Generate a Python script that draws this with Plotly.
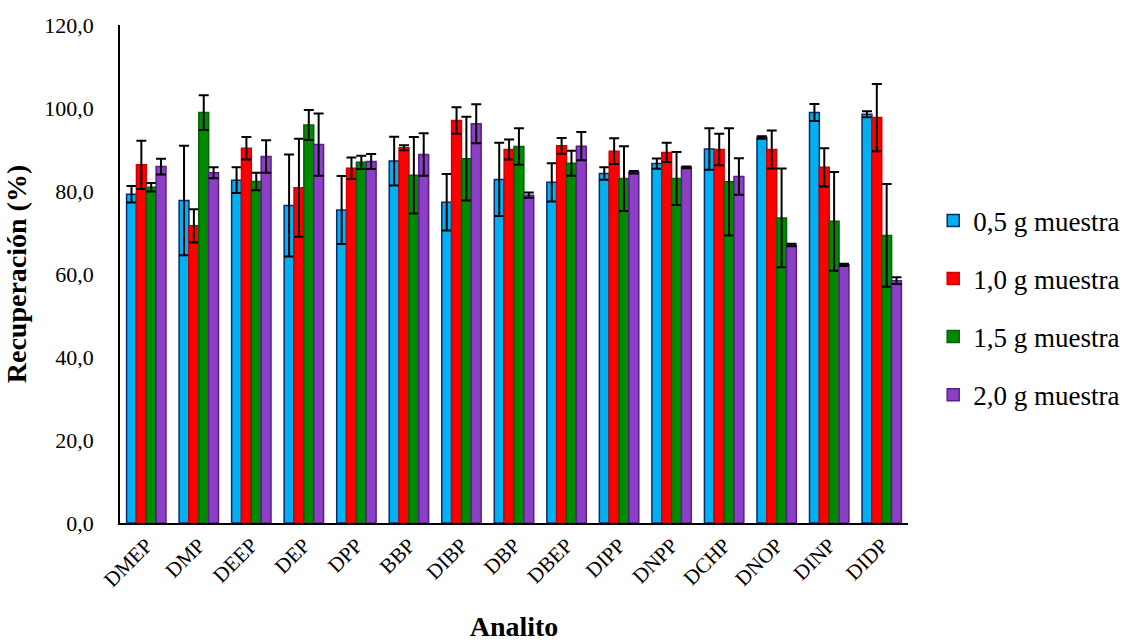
import plotly.graph_objects as go

categories = ["DMEP", "DMP", "DEEP", "DEP", "DPP", "BBP", "DIBP", "DBP", "DBEP",
              "DIPP", "DNPP", "DCHP", "DNOP", "DINP", "DIDP"]

s05 = [79.2, 77.7, 82.6, 76.5, 75.4, 87.2, 77.3, 82.8, 82.1, 84.2, 86.6, 90.1, 92.9, 98.9, 98.5]
e05 = [2.0, 13.2, 3.1, 12.3, 8.2, 5.9, 6.8, 8.8, 4.6, 1.5, 1.25, 5.0, 0.3, 2.05, 0.7]

s10 = [86.3, 71.6, 90.3, 80.8, 85.5, 90.4, 97.0, 90.0, 90.9, 89.6, 89.3, 90.0, 90.0, 85.7, 97.7]
e10 = [5.8, 4.0, 2.7, 11.8, 2.6, 0.6, 3.2, 2.4, 1.9, 3.1, 2.3, 3.8, 4.6, 4.6, 8.1]

s15 = [80.9, 98.9, 82.3, 95.9, 86.9, 83.8, 87.8, 90.7, 86.7, 83.0, 83.0, 82.2, 73.5, 72.7, 69.3]
e15 = [1.0, 4.2, 2.1, 3.6, 1.6, 9.2, 10.1, 4.4, 3.0, 7.8, 6.4, 12.9, 11.9, 11.9, 12.4]

s20 = [85.9, 84.4, 88.3, 91.2, 87.1, 88.8, 96.2, 79.0, 90.8, 84.5, 85.7, 83.5, 67.0, 62.2, 58.4]
e20 = [1.9, 1.3, 3.9, 7.5, 1.8, 5.1, 4.7, 0.65, 3.4, 0.3, 0.2, 4.4, 0.3, 0.3, 0.8]

series_names = ["0,5 g muestra", "1,0 g muestra", "1,5 g muestra", "2,0 g muestra"]
series_vals = [s05, s10, s15, s20]
series_errs = [e05, e10, e15, e20]
fill_colors = ["#00B0F0", "#FF0000", "#008A00", "#8B3FC4"]
line_colors = ["#0B2A6E", "#D00000", "#006400", "#5A1F86"]

FONT = "Liberation Serif"

fig = go.Figure()
for i, (name, vals, errs) in enumerate(zip(series_names, series_vals, series_errs)):
    fig.add_trace(go.Bar(
        x=categories, y=vals, name=name,
        marker=dict(color=fill_colors[i], line=dict(color=line_colors[i], width=1.5)),
        error_y=dict(type="data", array=errs, visible=True, color="black",
                     thickness=2, width=5),
        legendgroup=f"g{i}",
    ))

fig.update_layout(
    width=1127, height=642,
    margin=dict(l=120, r=219, t=25, b=119, autoexpand=False),
    paper_bgcolor="white", plot_bgcolor="white",
    barmode="group", bargap=0.25, bargroupgap=0.0,
    separators=",.",
    font=dict(family=FONT, size=20, color="black"),
    showlegend=True,
    legend=dict(x=1.032, y=0.432, xanchor="left", yanchor="middle",
                font=dict(family=FONT, size=27, color="black"),
                tracegroupgap=20, itemwidth=30),
    xaxis=dict(
        showline=True, linecolor="black", linewidth=1.5,
        ticks="", tickangle=-45, showgrid=False,
        tickfont=dict(family=FONT, size=21, color="black"),
        title=dict(text="<b>Analito</b>", font=dict(family=FONT, size=28, color="black"),
                   standoff=30),
    ),
    yaxis=dict(
        range=[0, 120], dtick=20, tickformat=".1f",
        showline=True, linecolor="black", linewidth=1.5,
        ticks="", showgrid=False, zeroline=False,
        ticklabelstandoff=20,
        tickfont=dict(family=FONT, size=22, color="black"),
        title=dict(text="<b>Recuperación (%)</b>", font=dict(family=FONT, size=28, color="black"),
                   standoff=10),
    ),
)

fig.write_html("out.html")
